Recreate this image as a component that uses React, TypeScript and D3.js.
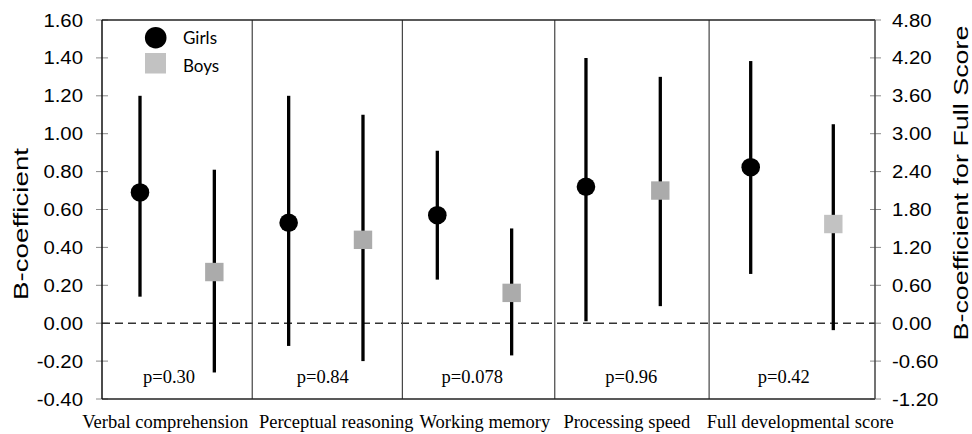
import React from "react";
import * as d3 from "d3";

const categories = [
  "Verbal comprehension",
  "Perceptual reasoning",
  "Working memory",
  "Processing speed",
  "Full developmental score",
];
// Last category is read against the right (Full Score) axis
const onRightAxis = [false, false, false, false, true];
const girlsB = [0.69, 0.53, 0.57, 0.72, 2.47];
const girlsLow = [0.14, -0.12, 0.23, 0.01, 0.78];
const girlsHigh = [1.2, 1.2, 0.91, 1.4, 4.15];
const boysB = [0.27, 0.44, 0.16, 0.7, 1.57];
const boysLow = [-0.26, -0.2, -0.17, 0.09, -0.11];
const boysHigh = [0.81, 1.1, 0.5, 1.3, 3.15];
const pValues = ["p=0.30", "p=0.84", "p=0.078", "p=0.96", "p=0.42"];
const leftTicks = [-0.4, -0.2, 0, 0.2, 0.4, 0.6, 0.8, 1.0, 1.2, 1.4, 1.6];
const rightTicks = [-1.2, -0.6, 0, 0.6, 1.2, 1.8, 2.4, 3.0, 3.6, 4.2, 4.8];
const legendLabels = ["Girls", "Boys"];

// layout (slot units)
const dividerSlots = [1.51, 3.53, 5.58, 7.54];
const labelSlots = [0.34, 2.64, 4.64, 6.55, 8.6];
const pSlots = [0.39, 2.46, 4.47, 6.61, 8.4];

const W = 972;
const H = 434;
const top = 20;
const bottom = 399;
const left = 102;
const right = 875;

export default function App() {
  const x = d3
    .scaleLinear()
    .domain([-0.5, 0, 7, 8, 9, 9.5])
    .range([left, 140, 660.3, 750.7, 833.3, right]);
  const yL = d3.scaleLinear().domain([-0.4, 1.6]).range([bottom, top]);
  const yR = d3.scaleLinear().domain([-1.2, 4.8]).range([bottom, top]);
  const yFor = (i: number) => (onRightAxis[i] ? yR : yL);

  const sans = "'Liberation Sans', Arial, sans-serif";
  const serif = "'Liberation Serif', 'Times New Roman', serif";
  const boysColor = (i: number) => (onRightAxis[i] ? "#c2c2c2" : "#ababab");

  return (
    <svg
      width={W}
      height={H}
      style={{ position: "absolute", left: 0, top: 0, background: "#fff" }}
    >
      {/* ticks */}
      {leftTicks.map((t) => (
        <g key={"lt" + t}>
          <line x1={left - 6} x2={left + 6} y1={yL(t)} y2={yL(t)} stroke="#8a8a8a" strokeWidth={1} />
          <text
            transform={`translate(${83},${yL(t) + 6.5}) scale(1.1,1)`}
            textAnchor="end"
            fontFamily={sans}
            fontSize={18.5}
            fill="#000"
          >
            {t.toFixed(2)}
          </text>
        </g>
      ))}
      {rightTicks.map((t) => (
        <g key={"rt" + t}>
          <line x1={right - 5} x2={right + 6} y1={yR(t)} y2={yR(t)} stroke="#8a8a8a" strokeWidth={1} />
          <text
            transform={`translate(${892},${yR(t) + 6.5}) scale(1.1,1)`}
            textAnchor="start"
            fontFamily={sans}
            fontSize={18.5}
            fill="#000"
          >
            {t.toFixed(2)}
          </text>
        </g>
      ))}

      {/* zero dashed line */}
      <line x1={left} x2={right} y1={yL(0)} y2={yL(0)} stroke="#333" strokeWidth={1.5} strokeDasharray="8,5" />

      {/* panel dividers */}
      {dividerSlots.map((s, i) => (
        <line key={"d" + i} x1={x(s)} x2={x(s)} y1={top} y2={bottom} stroke="#444" strokeWidth={1.2} />
      ))}

      {/* frame */}
      <line x1={left} x2={right} y1={top} y2={top} stroke="#222" strokeWidth={1.5} />
      <line x1={left} x2={right} y1={bottom} y2={bottom} stroke="#222" strokeWidth={1.5} />
      <line x1={left} x2={left} y1={top} y2={bottom} stroke="#111" strokeWidth={1.5} />
      <line x1={right} x2={right} y1={top} y2={bottom} stroke="#444" strokeWidth={1.5} />

      {/* data */}
      {categories.map((c, i) => {
        const y = yFor(i);
        const gx = x(2 * i);
        const bx = x(2 * i + 1);
        return (
          <g key={c}>
            <line x1={gx} x2={gx} y1={y(girlsLow[i])} y2={y(girlsHigh[i])} stroke="#000" strokeWidth={3.3} />
            <circle cx={gx} cy={y(girlsB[i])} r={9.3} fill="#000" />
            <line x1={bx} x2={bx} y1={y(boysLow[i])} y2={y(boysHigh[i])} stroke="#000" strokeWidth={3.3} />
            <rect x={bx - 9.2} y={y(boysB[i]) - 9.2} width={18.4} height={18.4} fill={boysColor(i)} />
            <text x={x(pSlots[i])} y={383} textAnchor="middle" fontFamily={serif} fontSize={18.5} fill="#000">
              {pValues[i]}
            </text>
            <text x={x(labelSlots[i])} y={428} textAnchor="middle" fontFamily={serif} fontSize={18.5} fill="#000">
              {c}
            </text>
          </g>
        );
      })}

      {/* legend */}
      <circle cx={155.7} cy={37.7} r={10.8} fill="#000" />
      <rect x={145} y={53} width={21} height={20.5} fill="#c2c2c2" />
      <text x={183} y={44} fontFamily="Lato, 'Open Sans', sans-serif" fontSize={17} fill="#000">
        {legendLabels[0]}
      </text>
      <text x={183} y={72} fontFamily="Lato, 'Open Sans', sans-serif" fontSize={17} fill="#000">
        {legendLabels[1]}
      </text>

      {/* axis titles */}
      <text
        transform={`translate(28,224) rotate(-90)`}
        textAnchor="middle"
        fontFamily={sans}
        fontSize={20}
        textLength={152}
        lengthAdjust="spacingAndGlyphs"
        fill="#000"
      >
        B-coefficient
      </text>
      <text
        transform={`translate(968,183) rotate(-90)`}
        textAnchor="middle"
        fontFamily={sans}
        fontSize={20}
        textLength={315}
        lengthAdjust="spacingAndGlyphs"
        fill="#000"
      >
        B-coefficient for Full Score
      </text>
    </svg>
  );
}
